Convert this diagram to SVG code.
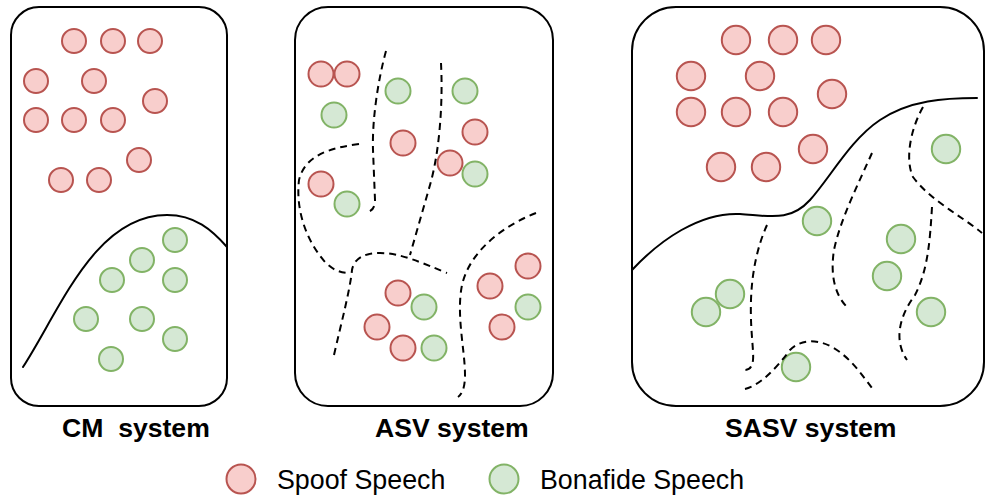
<svg xmlns="http://www.w3.org/2000/svg" width="985" height="495" viewBox="0 0 985 495">
  <style>
    .panel { fill: #ffffff; stroke: #000000; stroke-width: 2; }
    .spoof { fill: #f8cecc; stroke: #b85450; stroke-width: 2; }
    .bona { fill: #d5e8d4; stroke: #82b366; stroke-width: 2; }
    .bound { fill: none; stroke: #000000; stroke-width: 2; stroke-linecap: round; }
    .dash { fill: none; stroke: #000000; stroke-width: 2; stroke-dasharray: 7 5; }
    .title { font-family: "Liberation Sans", Arial, sans-serif; font-weight: bold; font-size: 26.6px; fill: #000000; white-space: pre; }
    .legend { font-family: "Liberation Sans", Arial, sans-serif; font-size: 26.8px; fill: #000000; }
  </style>

  <!-- CM system panel -->
  <g id="cm-system">
    <rect class="panel" x="11" y="7" width="216" height="399" rx="28" ry="28"/>
    <g id="cm-spoof">
      <circle class="spoof" cx="74" cy="41" r="12"/>
      <circle class="spoof" cx="113" cy="41" r="12"/>
      <circle class="spoof" cx="150" cy="41" r="12"/>
      <circle class="spoof" cx="36" cy="81" r="12"/>
      <circle class="spoof" cx="94" cy="81" r="12"/>
      <circle class="spoof" cx="155" cy="101" r="12"/>
      <circle class="spoof" cx="36" cy="120" r="12"/>
      <circle class="spoof" cx="74" cy="120" r="12"/>
      <circle class="spoof" cx="113" cy="120" r="12"/>
      <circle class="spoof" cx="139" cy="160" r="12"/>
      <circle class="spoof" cx="61" cy="180" r="12"/>
      <circle class="spoof" cx="99" cy="180" r="12"/>
    </g>
    <g id="cm-bonafide">
      <circle class="bona" cx="175" cy="240" r="12"/>
      <circle class="bona" cx="142" cy="260" r="12"/>
      <circle class="bona" cx="175" cy="280" r="12"/>
      <circle class="bona" cx="112" cy="280" r="12"/>
      <circle class="bona" cx="86" cy="319" r="12"/>
      <circle class="bona" cx="142" cy="319" r="12"/>
      <circle class="bona" cx="175" cy="339" r="12"/>
      <circle class="bona" cx="111" cy="359" r="12"/>
    </g>
    <text class="title" x="62" y="437">CM  system</text>
  </g>

  <!-- ASV system panel -->
  <g id="asv-system">
    <rect class="panel" x="295" y="7" width="258" height="399" rx="33" ry="33"/>
    <g id="asv-spoof">
      <circle class="spoof" cx="321" cy="74" r="12.5"/>
      <circle class="spoof" cx="347" cy="74" r="12.5"/>
      <circle class="spoof" cx="403" cy="143" r="12.5"/>
      <circle class="spoof" cx="475" cy="132" r="12.5"/>
      <circle class="spoof" cx="450" cy="163" r="12.5"/>
      <circle class="spoof" cx="321" cy="184" r="12.5"/>
      <circle class="spoof" cx="398" cy="293" r="12.5"/>
      <circle class="spoof" cx="377" cy="327" r="12.5"/>
      <circle class="spoof" cx="403" cy="348" r="12.5"/>
      <circle class="spoof" cx="490" cy="286" r="12.5"/>
      <circle class="spoof" cx="528" cy="266" r="12.5"/>
      <circle class="spoof" cx="502" cy="327" r="12.5"/>
    </g>
    <g id="asv-bonafide">
      <circle class="bona" cx="398" cy="91" r="12.5"/>
      <circle class="bona" cx="465" cy="91" r="12.5"/>
      <circle class="bona" cx="334" cy="115" r="12.5"/>
      <circle class="bona" cx="475" cy="174" r="12.5"/>
      <circle class="bona" cx="347" cy="204" r="12.5"/>
      <circle class="bona" cx="424" cy="307" r="12.5"/>
      <circle class="bona" cx="434" cy="348" r="12.5"/>
      <circle class="bona" cx="528" cy="307" r="12.5"/>
    </g>
    <text class="title" x="375" y="437">ASV system</text>
  </g>

  <!-- SASV system panel -->
  <g id="sasv-system">
    <rect class="panel" x="632" y="7" width="352" height="399" rx="44" ry="44"/>
    <g id="sasv-spoof">
      <circle class="spoof" cx="736" cy="40" r="14.2"/>
      <circle class="spoof" cx="783" cy="40" r="14.2"/>
      <circle class="spoof" cx="826" cy="40" r="14.2"/>
      <circle class="spoof" cx="691" cy="76" r="14.2"/>
      <circle class="spoof" cx="760" cy="76" r="14.2"/>
      <circle class="spoof" cx="832" cy="94" r="14.2"/>
      <circle class="spoof" cx="691" cy="112" r="14.2"/>
      <circle class="spoof" cx="736" cy="112" r="14.2"/>
      <circle class="spoof" cx="783" cy="112" r="14.2"/>
      <circle class="spoof" cx="813" cy="149" r="14.2"/>
      <circle class="spoof" cx="721" cy="167" r="14.2"/>
      <circle class="spoof" cx="766" cy="167" r="14.2"/>
    </g>
    <g id="sasv-bonafide">
      <circle class="bona" cx="946" cy="149" r="14.2"/>
      <circle class="bona" cx="817" cy="221" r="14.2"/>
      <circle class="bona" cx="901" cy="239" r="14.2"/>
      <circle class="bona" cx="887" cy="276" r="14.2"/>
      <circle class="bona" cx="931" cy="312" r="14.2"/>
      <circle class="bona" cx="730" cy="294" r="14.2"/>
      <circle class="bona" cx="706" cy="312" r="14.2"/>
      <circle class="bona" cx="796" cy="367" r="14.2"/>
    </g>
    <text class="title" x="725" y="437">SASV system</text>
  </g>

  <!-- decision boundaries -->
  <g id="connectors">
    <path class="bound" d="M23,367 C60,310 95,215 167,215 C195,215 212,230 227,247"/>
    <path class="dash" d="M386,51 C378,80 372,120 373,150 L375,200 Q375,210 368,212"/>
    <path class="dash" d="M441,63 C443,100 440,150 430,185 L410,255"/>
    <path class="dash" d="M359,144 C330,148 305,155 299,180 C295,215 310,245 325,262 C333,270 340,273 350,273"/>
    <path class="dash" d="M334,355 C342,320 350,290 352,270 C354,258 365,253 380,253 C400,253 420,262 447,273"/>
    <path class="dash" d="M536,213 C505,225 470,250 462,285 C456,315 465,350 465,375 Q465,392 458,397"/>
    <path class="bound" d="M632,270 C660,240 700,212 740,214 C770,216 790,222 810,200 C830,178 850,140 880,120 C910,100 945,98 977,98"/>
    <path class="dash" d="M923,107 C910,130 905,160 913,177 C930,200 960,215 982,233"/>
    <path class="dash" d="M932,207 C930,240 928,270 915,295 C900,315 893,340 907,360"/>
    <path class="dash" d="M872,153 C860,180 840,220 834,250 C830,275 835,295 847,307"/>
    <path class="dash" d="M767,225 C758,245 752,270 751,300 C750,330 754,350 753,360 Q752,370 745,370"/>
    <path class="dash" d="M745,389 C760,385 775,370 790,350 C800,340 815,338 832,347 C850,357 862,375 872,388"/>
  </g>

  <!-- legend -->
  <g id="legend">
    <g id="legend-spoof">
      <circle class="spoof" cx="241" cy="479" r="14.5"/>
      <text class="legend" x="277" y="489">Spoof Speech</text>
    </g>
    <g id="legend-bonafide">
      <circle class="bona" cx="504" cy="479" r="14.5"/>
      <text class="legend" x="540" y="489">Bonafide Speech</text>
    </g>
  </g>
</svg>
